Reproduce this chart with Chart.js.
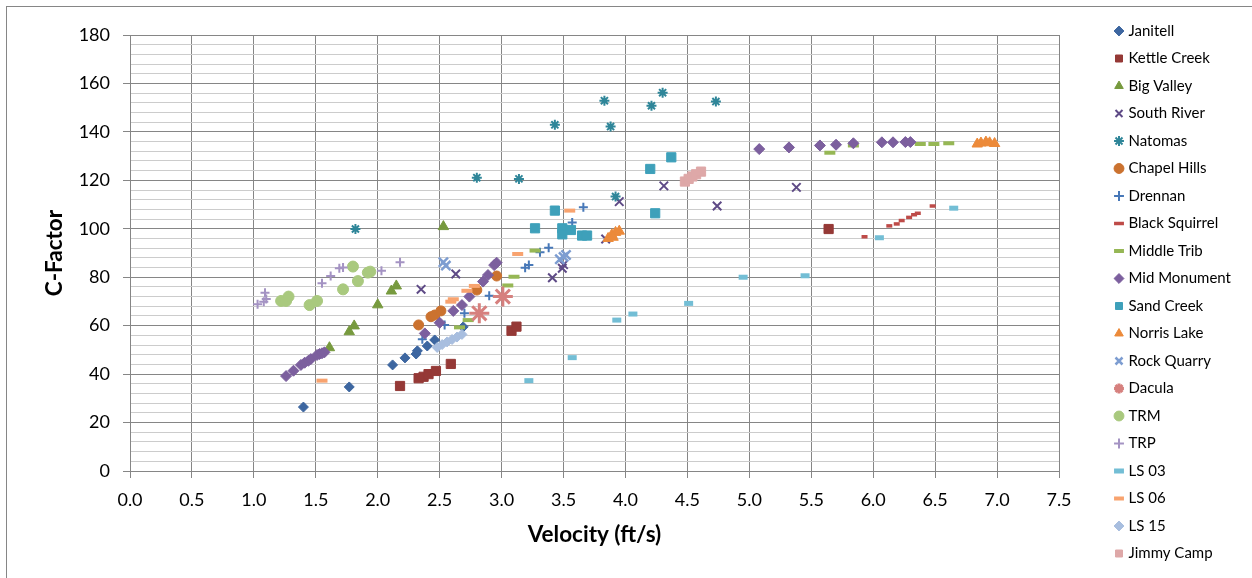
<!DOCTYPE html>
<html>
<head>
<meta charset="utf-8">
<script src="https://cdn.jsdelivr.net/npm/chart.js@4.4.0/dist/chart.umd.min.js"></script>
<style>
  html, body { margin: 0; padding: 0; background: #ffffff; }
  canvas { display: block; }
</style>
</head>
<body>
<canvas id="c" width="1252" height="578"></canvas>
<script>
// ---------- DATA ----------
const seriesNames = ['Janitell','Kettle Creek','Big Valley','South River','Natomas','Chapel Hills','Drennan','Black Squirrel','Middle Trib','Mid Monument','Sand Creek','Norris Lake','Rock Quarry','Dacula','TRM','TRP','LS 03','LS 06','LS 15','Jimmy Camp'];

const janitellX = [1.40, 1.77, 2.12, 2.22, 2.31, 2.32, 2.40, 2.46, 2.69];
const janitellY = [26.4, 34.7, 43.8, 46.7, 48.3, 49.6, 51.6, 54.1, 59.5];

const kettleCreekX = [2.18, 2.33, 2.37, 2.41, 2.47, 2.59, 3.08, 3.12, 5.64];
const kettleCreekY = [35.1, 38.3, 38.9, 40.0, 41.3, 44.2, 57.9, 59.6, 99.9];

const bigValleyX = [1.61, 1.77, 1.81, 2.00, 2.11, 2.15, 2.53];
const bigValleyY = [50.9, 57.5, 59.9, 68.6, 74.3, 76.4, 100.9];

const southRiverX = [2.35, 2.63, 3.41, 3.49, 3.50, 3.84, 3.95, 4.31, 4.74, 5.38];
const southRiverY = [75.0, 81.3, 79.8, 83.7, 85.2, 95.8, 111.2, 117.7, 109.4, 117.1];

const natomasX = [1.82, 2.80, 3.14, 3.43, 3.83, 3.88, 3.92, 4.21, 4.30, 4.73];
const natomasY = [99.9, 121.1, 120.6, 142.9, 152.9, 142.2, 113.3, 150.8, 156.2, 152.5];

const chapelHillsX = [2.33, 2.43, 2.46, 2.51, 2.80, 2.96];
const chapelHillsY = [60.3, 63.7, 64.4, 66.1, 74.7, 80.5];

const drennanX = [2.36, 2.54, 2.70, 2.90, 3.19, 3.22, 3.31, 3.38, 3.57, 3.66];
const drennanY = [54.4, 60.3, 65.1, 72.4, 83.9, 85.0, 90.3, 92.2, 102.6, 108.9];

const blackSquirrelX = [5.93, 6.13, 6.19, 6.23, 6.29, 6.33, 6.36, 6.48];
const blackSquirrelY = [96.7, 101.2, 102.0, 103.4, 104.7, 105.8, 106.4, 109.4];

const middleTribX = [2.66, 2.73, 3.05, 3.10, 3.27, 5.65, 5.84, 6.38, 6.49, 6.61];
const middleTribY = [59.3, 62.3, 76.6, 80.2, 91.0, 131.4, 134.4, 135.0, 135.0, 135.3];

const midMonumentX = [1.26, 1.32, 1.38, 1.41, 1.44, 1.46, 1.51, 1.53, 1.55, 1.57, 2.38, 2.50, 2.61, 2.68, 2.74, 2.85, 2.89, 2.94, 2.96, 5.08, 5.32, 5.57, 5.70, 5.84, 6.07, 6.16, 6.26, 6.30];
const midMonumentY = [39.2, 41.4, 43.8, 44.7, 45.5, 46.2, 47.9, 48.3, 48.6, 49.0, 56.8, 61.2, 66.1, 68.5, 72.0, 78.2, 80.9, 85.0, 86.0, 132.9, 133.6, 134.4, 134.7, 135.3, 135.7, 135.7, 135.8, 135.8];

const sandCreekX = [3.27, 3.43, 3.49, 3.49, 3.56, 3.65, 3.69, 4.20, 4.24, 4.37];
const sandCreekY = [100.2, 107.5, 100.2, 97.7, 99.5, 97.2, 97.2, 124.7, 106.4, 129.5];

const norrisLakeX = [3.86, 3.89, 3.92, 3.95, 3.90, 6.84, 6.87, 6.91, 6.94, 6.98];
const norrisLakeY = [96.0, 97.5, 98.5, 99.0, 96.5, 135.0, 135.4, 135.8, 135.5, 135.2];

const rockQuarryX = [2.53, 2.55, 3.47, 3.50, 3.52];
const rockQuarryY = [86.2, 84.8, 87.4, 88.4, 89.2];

const daculaX = [2.82, 3.01];
const daculaY = [65.1, 72.0];

const trmX = [1.22, 1.26, 1.28, 1.45, 1.51, 1.72, 1.80, 1.84, 1.92, 1.94];
const trmY = [70.2, 70.2, 72.0, 68.5, 70.2, 75.0, 84.4, 78.4, 81.9, 82.3];

const trpX = [1.03, 1.08, 1.10, 1.09, 1.55, 1.62, 1.69, 1.72, 2.03, 2.18];
const trpY = [68.8, 69.9, 71.0, 73.6, 77.5, 80.5, 83.7, 84.0, 82.7, 86.2];

const ls03X = [3.22, 3.57, 3.93, 4.06, 4.51, 4.95, 5.45, 6.05, 6.65];
const ls03Y = [37.3, 46.8, 62.3, 64.8, 69.2, 80.0, 80.6, 96.3, 108.5];

const ls06X = [1.55, 2.59, 2.61, 2.72, 2.78, 3.13, 3.55];
const ls06Y = [37.3, 69.9, 70.9, 74.4, 76.4, 89.6, 107.5];

const ls15X = [2.48, 2.52, 2.56, 2.60, 2.64, 2.68];
const ls15Y = [51.0, 52.2, 53.3, 54.3, 55.3, 56.4];

const jimmyCampX = [4.48, 4.51, 4.54, 4.57, 4.61];
const jimmyCampY = [119.5, 120.6, 121.6, 122.5, 123.6];

const xTickMin = 0, xTickMax = 7.5, xTickStep = 0.5;
const yTickMin = 0, yTickMax = 180, yMajorStep = 20, yMinorStep = 4;

const xAxisTitle = 'Velocity (ft/s)';
const yAxisTitle = 'C-Factor';

// ---------- STYLES ----------
const seriesXs = [janitellX, kettleCreekX, bigValleyX, southRiverX, natomasX, chapelHillsX, drennanX, blackSquirrelX, middleTribX, midMonumentX, sandCreekX, norrisLakeX, rockQuarryX, daculaX, trmX, trpX, ls03X, ls06X, ls15X, jimmyCampX];
const seriesYs = [janitellY, kettleCreekY, bigValleyY, southRiverY, natomasY, chapelHillsY, drennanY, blackSquirrelY, middleTribY, midMonumentY, sandCreekY, norrisLakeY, rockQuarryY, daculaY, trmY, trpY, ls03Y, ls06Y, ls15Y, jimmyCampY];

const seriesStyles = [
  {shape:'rectRot',  color:'#3D66A0', r:5,   bw:1},
  {shape:'rect',     color:'#953936', r:6.5, bw:1},
  {shape:'triangle', color:'#779A3E', r:6,   bw:1},
  {shape:'crossRot', color:'#5E4A86', r:6,   bw:2},
  {shape:'star',     color:'#2F8699', r:5,   bw:2},
  {shape:'circle',   color:'#CB722F', r:5,   bw:1},
  {shape:'cross',    color:'#4778B8', r:4.5, bw:2},
  {shape:'line',     color:'#BE4B48', r:3,   bw:3.5},
  {shape:'line',     color:'#96B755', r:5.5, bw:4},
  {shape:'rectRot',  color:'#7C5F9E', r:5.5, bw:1},
  {shape:'rect',     color:'#3EA0BA', r:6.5, bw:1},
  {shape:'triangle', color:'#EC8A3A', r:6,   bw:1},
  {shape:'crossRot', color:'#7D9DD1', r:6.5, bw:2.5},
  {shape:'star',     color:'#D6807E', r:10,  bw:3},
  {shape:'circle',   color:'#A9C97E', r:5.5, bw:1},
  {shape:'cross',    color:'#A493C3', r:4.5, bw:2},
  {shape:'line',     color:'#73BED5', r:4.5, bw:5},
  {shape:'line',     color:'#F8A36F', r:5.5, bw:4},
  {shape:'rectRot',  color:'#A8BEDF', r:5,   bw:1},
  {shape:'rect',     color:'#DEA8A8', r:6.5, bw:1}
];

const MAJOR = '#868686';
const MINOR = '#cccccc';
const FONT = 'Lato, "Open Sans", "DejaVu Sans", sans-serif';

const datasets = seriesNames.map((name, i) => ({
  label: name,
  data: seriesXs[i].map((x, k) => ({x: x, y: seriesYs[i][k]})),
  pointStyle: seriesStyles[i].shape,
  pointRadius: seriesStyles[i].r,
  pointHoverRadius: seriesStyles[i].r,
  pointBackgroundColor: seriesStyles[i].color,
  pointBorderColor: seriesStyles[i].color,
  pointBorderWidth: seriesStyles[i].bw,
  backgroundColor: seriesStyles[i].color,
  borderColor: seriesStyles[i].color,
  borderWidth: seriesStyles[i].bw,
  showLine: false,
  order: -i
}));

// target geometry
const PLOT_RIGHT = 1059;
const LEGEND_LEFT = 1104.5;
const LEGEND_TOP = 11;

const borderPlugin = {
  id: 'outerBorder',
  beforeDraw(chart) {
    const c = chart.ctx;
    c.save();
    c.fillStyle = '#ffffff';
    c.fillRect(0, 0, chart.width, chart.height);
    c.strokeStyle = MAJOR;
    c.lineWidth = 1;
    c.strokeRect(6.5, 6.5, 3000, 3000);
    c.restore();
  }
};

const legendPosPlugin = {
  id: 'legendPos',
  afterLayout(chart) {
    const lg = chart.legend;
    if (!lg) return;
    const w = lg.width, h = lg.height;
    lg.left = LEGEND_LEFT; lg.right = LEGEND_LEFT + w;
    lg.top = LEGEND_TOP; lg.bottom = LEGEND_TOP + h;
  }
};

const chart = new Chart(document.getElementById('c'), {
  type: 'scatter',
  data: { datasets },
  plugins: [borderPlugin, legendPosPlugin],
  options: {
    responsive: false,
    animation: false,
    events: [],
    layout: { padding: { left: 0, right: 0, top: 0, bottom: 0 } },
    plugins: {
      tooltip: { enabled: false },
      legend: {
        display: true,
        position: 'right',
        align: 'start',
        labels: {
          usePointStyle: true,
          boxWidth: 4,
          boxHeight: 7,
          padding: 12.5,
          color: '#000',
          font: { family: FONT, size: 15 },
          sort: (a, b) => a.datasetIndex - b.datasetIndex
        }
      }
    },
    scales: {
      x: {
        type: 'linear',
        position: 'bottom',
        min: xTickMin, max: xTickMax,
        ticks: {
          stepSize: xTickStep,
          autoSkip: false,
          maxRotation: 0,
          padding: 11,
          color: '#000',
          font: { family: FONT, size: 18 },
          callback: v => Number(v).toFixed(1)
        },
        grid: { color: MAJOR, lineWidth: 1, tickLength: 7, tickColor: MAJOR },
        border: { color: MAJOR, width: 1 },
        title: {
          display: true, text: xAxisTitle, color: '#000',
          font: { family: FONT, size: 22.5, weight: 'bold' },
          padding: { top: 0, bottom: 29.5 }
        },
        afterFit: s => { s.height = 107; }
      },
      xTop: {
        type: 'linear',
        position: 'top',
        display: true,
        min: 0, max: 1,
        ticks: { display: false },
        grid: { display: false, drawTicks: false },
        border: { display: false },
        afterFit: s => { s.height = 35; }
      },
      y: {
        type: 'linear',
        position: 'left',
        min: yTickMin, max: yTickMax,
        ticks: {
          stepSize: yMinorStep,
          autoSkip: false,
          padding: 13,
          color: '#000',
          font: { family: FONT, size: 18 },
          callback: v => (Math.round(v) % yMajorStep === 0 ? String(Math.round(v)) : '')
        },
        grid: {
          lineWidth: 1,
          tickLength: 7,
          color: c => (c.tick && Math.round(c.tick.value) % yMajorStep === 0 ? MAJOR : MINOR),
          tickColor: c => (c.tick && Math.round(c.tick.value) % yMajorStep === 0 ? MAJOR : 'rgba(0,0,0,0)')
        },
        border: { color: MAJOR, width: 1 },
        title: {
          display: true, text: yAxisTitle, color: '#000',
          font: { family: FONT, size: 22.5, weight: 'bold' },
          padding: { top: 41.5, bottom: 0 }
        },
        afterFit: s => { s.width = 130; }
      }
    }
  }
});

// fit the plot's right edge to the reference
const dr = chart.chartArea.right - PLOT_RIGHT;
if (Math.abs(dr) > 0.1) {
  chart.options.layout.padding.right = Math.max(0, dr);
  chart.update();
}
</script>
</body>
</html>
